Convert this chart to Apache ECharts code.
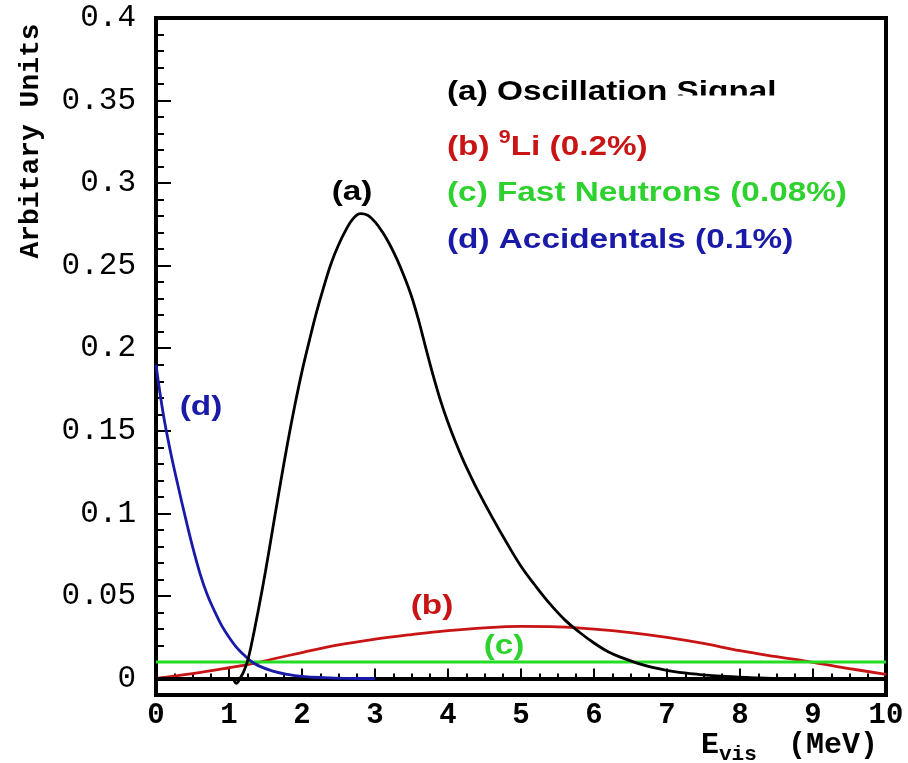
<!DOCTYPE html>
<html>
<head>
<meta charset="utf-8">
<script src="https://cdn.jsdelivr.net/npm/echarts@6/dist/echarts.min.js"></script>
<style>
  html, body { margin: 0; padding: 0; background: #fff; }
  #chart { width: 908px; height: 763px; }
</style>
</head>
<body>
<div id="chart"></div>
<script>
// (a) oscillation signal, black
const signalE = [0, 1.04, 1.1, 1.15, 1.2, 1.25, 1.3, 1.4, 1.5, 1.6, 1.7, 1.8, 1.9, 2.0, 2.1, 2.2, 2.3, 2.4, 2.5, 2.6, 2.7, 2.8, 2.9, 3.0, 3.1, 3.2, 3.3, 3.4, 3.5, 3.6, 3.7, 3.8, 3.9, 4.0, 4.1, 4.2, 4.3, 4.4, 4.6, 4.8, 5.0, 5.2, 5.4, 5.6, 5.8, 6.0, 6.2, 6.4, 6.6, 6.8, 7.1, 7.45, 7.8, 8.2, 8.6, 10];
const signalY = [0, 0, -0.003, 0, 0.004, 0.01, 0.019, 0.041, 0.065, 0.091, 0.117, 0.142, 0.165, 0.186, 0.2045, 0.222, 0.2375, 0.2515, 0.2625, 0.2715, 0.2785, 0.2815, 0.2805, 0.2765, 0.2705, 0.263, 0.254, 0.2435, 0.2315, 0.2165, 0.1995, 0.183, 0.168, 0.155, 0.1435, 0.133, 0.1235, 0.1145, 0.098, 0.0825, 0.068, 0.056, 0.045, 0.0355, 0.028, 0.0215, 0.016, 0.0123, 0.0092, 0.0068, 0.0042, 0.0024, 0.0012, 0.0004, 0, 0];

// (b) 9Li, red
const lithiumE = [0, 0.5, 1.0, 1.3, 1.6, 2.0, 2.5, 3.0, 3.5, 4.0, 4.5, 5.0, 5.5, 6.0, 6.5, 7.0, 7.5, 8.0, 8.5, 9.0, 9.5, 10];
const lithiumY = [0, 0.003, 0.0065, 0.0088, 0.0118, 0.0157, 0.0203, 0.0238, 0.0266, 0.029, 0.0307, 0.0315, 0.0312, 0.0299, 0.0278, 0.0249, 0.0212, 0.0168, 0.0132, 0.0098, 0.006, 0.0025];

// (c) fast neutrons, green (flat)
const neutronE = [0, 10];
const neutronY = [0.01, 0.01];

// (d) accidentals, blue
const accidentalE = [0, 0.1, 0.2, 0.3, 0.4, 0.5, 0.6, 0.7, 0.8, 0.9, 1.0, 1.1, 1.2, 1.3, 1.4, 1.6, 1.8, 2.0, 2.3, 2.6, 3.0];
const accidentalY = [0.19, 0.16, 0.137, 0.117, 0.098, 0.08, 0.064, 0.051, 0.041, 0.032, 0.025, 0.019, 0.0145, 0.0105, 0.0078, 0.0045, 0.0025, 0.0013, 0.0005, 0.0001, 0];

const yMajorTicks = [0, 0.05, 0.1, 0.15, 0.2, 0.25, 0.3, 0.35, 0.4];

const zip = (xs, ys) => xs.map((x, i) => [x, ys[i]]);

const chart = echarts.init(document.getElementById('chart'));

const mono = 'Liberation Mono';
const sans = 'Liberation Sans';
const red = '#c81414', green = '#22dd22', blue = '#1a1aa8';

function line(name, xs, ys, color) {
  return {
    name: name,
    type: 'line',
    data: zip(xs, ys),
    showSymbol: false,
    smooth: 0.4,
    lineStyle: { color: color, width: 2.8 },
    itemStyle: { color: color },
    animation: false
  };
}

function sansText(x, y, text, color, align) {
  return {
    type: 'text', x: x, y: y, scaleX: 1.19, z: 10,
    style: {
      text: text, fill: color, font: 'bold 28px "' + sans + '"',
      textAlign: align || 'left', textVerticalAlign: 'middle'
    }
  };
}

function monoText(x, y, text, size) {
  return {
    type: 'text', x: x, y: y,
    style: {
      text: text, fill: '#000', font: 'bold ' + size + 'px "' + mono + '"',
      textAlign: 'left', textVerticalAlign: 'middle'
    }
  };
}

const option = {
  backgroundColor: '#fff',
  animation: false,
  grid: {
    left: 156, right: 22, top: 18, bottom: 68,
    show: true, borderColor: '#000', borderWidth: 4
  },
  xAxis: {
    type: 'value', min: 0, max: 10, interval: 1,
    axisLine: { show: true, lineStyle: { color: '#000', width: 4 } },
    axisTick: { inside: true, length: 10, lineStyle: { color: '#000', width: 2 } },
    minorTick: { show: true, splitNumber: 4, length: 5, lineStyle: { color: '#000', width: 2 } },
    axisLabel: { color: '#000', fontFamily: mono, fontWeight: 'bold', fontSize: 29, margin: 6 },
    splitLine: { show: false },
    minorSplitLine: { show: false }
  },
  yAxis: [
    {
      type: 'value', min: -0.01, max: 0.4, interval: 0.01,
      axisLine: { show: true, lineStyle: { color: '#000', width: 4 } },
      axisTick: { inside: true, length: 8, lineStyle: { color: '#000', width: 2 } },
      axisLabel: {
        customValues: yMajorTicks,
        color: '#000', fontFamily: mono, fontSize: 31, margin: 20,
        formatter: v => (Math.abs(v) < 1e-9 ? '0' : String(+v.toFixed(2)))
      },
      splitLine: { show: false }
    },
    {
      type: 'value', min: -0.01, max: 0.4, position: 'left',
      axisLine: { show: false },
      axisTick: { show: true, inside: true, length: 15, customValues: yMajorTicks, lineStyle: { color: '#000', width: 2 } },
      axisLabel: { show: false },
      splitLine: { show: false }
    }
  ],
  series: [
    line('(b) 9Li', lithiumE, lithiumY, red),
    line('(c) Fast Neutrons', neutronE, neutronY, green),
    line('(d) Accidentals', accidentalE, accidentalY, blue),
    line('(a) Oscillation Signal', signalE, signalY, '#000')
  ],
  graphic: [
    {
      type: 'text', x: 31, y: 141, rotation: Math.PI / 2,
      style: {
        text: 'Arbitary Units', fill: '#000', font: 'bold 28px "' + mono + '"',
        textAlign: 'center', textVerticalAlign: 'middle'
      }
    },
    monoText(701, 745, 'E', 30),
    monoText(719, 755, 'vis', 21),
    monoText(788, 745, '(MeV)', 30),
    sansText(447, 92, '(a) Oscillation Signal', '#000'),
    { type: 'rect', shape: { x: 676, y: 95.5, width: 110, height: 14 }, style: { fill: '#fff' }, z: 11 },
    {
      type: 'text', x: 447, y: 145, scaleX: 1.19, z: 10,
      style: {
        text: '{m|(b) }{s|9}{m|Li (0.2%)}',
        textVerticalAlign: 'middle',
        rich: {
          m: { fontFamily: sans, fontWeight: 'bold', fontSize: 28, fill: red, lineHeight: 32, verticalAlign: 'bottom' },
          s: { fontFamily: sans, fontWeight: 'bold', fontSize: 18, fill: red, lineHeight: 32, verticalAlign: 'top' }
        }
      }
    },
    sansText(447, 193, '(c) Fast Neutrons (0.08%)', '#2ed22e'),
    sansText(447, 240, '(d) Accidentals (0.1%)', blue),
    sansText(352, 192, '(a)', '#000', 'center'),
    sansText(201, 407, '(d)', blue, 'center'),
    sansText(432, 606, '(b)', red, 'center'),
    sansText(504, 646, '(c)', '#2ed22e', 'center')
  ]
};

chart.setOption(option);
</script>
</body>
</html>
